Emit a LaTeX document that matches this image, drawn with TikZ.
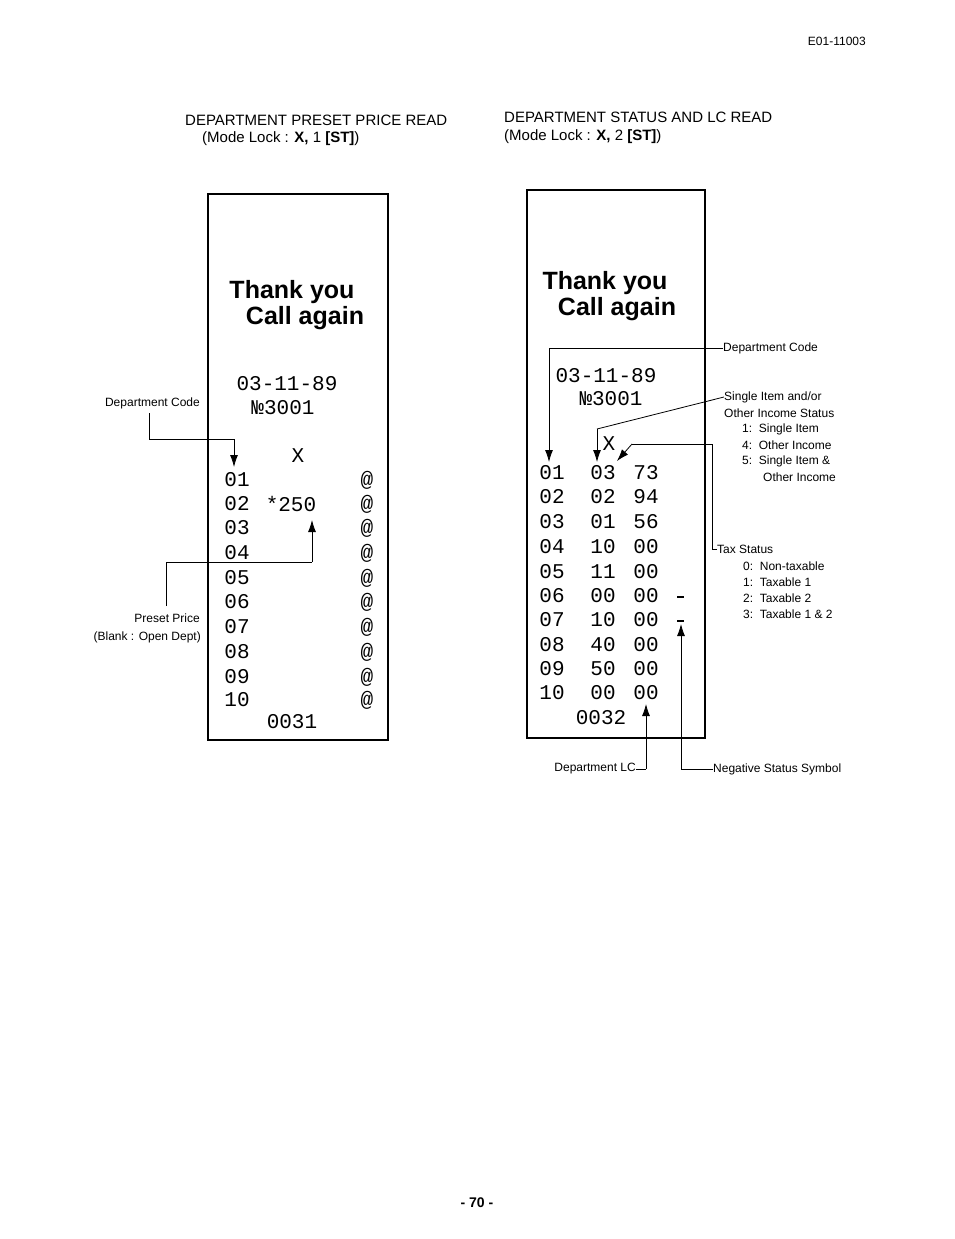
\documentclass[tikz,border=0pt]{standalone}
\usepackage{fontspec}
\setmainfont{Liberation Sans}
\setmonofont{Liberation Mono}
\usetikzlibrary{arrows.meta}
\tikzstyle{receipt}=[draw, line width = 1.6pt]
\tikzstyle{lbl}=[inner sep = 0pt, font = \fontsize{12}{13}\selectfont]
\tikzstyle{dig}=[inner sep = 0pt, font = \fontsize{21}{22}\ttfamily]
\tikzstyle{ttl}=[inner sep = 0pt, font = \fontsize{25}{26}\bfseries]
\tikzstyle{hdr}=[inner sep = 0pt, anchor = west, font = \fontsize{15}{16}\selectfont]
\tikzstyle{lead}=[line width = 0.8pt]
\tikzstyle{pointer}=[line width = 0.8pt, -{Latex[length=12pt,width=8pt]}]
\begin{document}
\begin{tikzpicture}[x = 1pt, y = -1pt]
\useasboundingbox (0,0) rectangle (954,1239);
\node[lbl, anchor = east] (page) at (866,41) {E01-11003};
\node[lbl, font = \fontsize{14}{15}\bfseries] (pgno) at (477,1203) {- 70 -};
% headers
\node[hdr] (h1) at (185,120) {DEPARTMENT PRESET PRICE READ};
\node[hdr] (h1m) at (202,139) {(Mode Lock : \textbf{X,} 1 \textbf{[ST]})};
\node[hdr] (h2) at (504,117) {DEPARTMENT STATUS AND LC READ};
\node[hdr] (h2m) at (504,137) {(Mode Lock : \textbf{X,} 2 \textbf{[ST]})};
% left receipt
\draw[receipt] (208,194) rectangle (388,740);
\node[ttl] (t1) at (292,292) {Thank you};
\node[ttl] (c1) at (305,318) {Call again};
\node[dig] (d1) at (287,384) {03-11-89};
\node[dig] (n1) at (283,408) {№3001};
\node[dig] (x1) at (298,456) {X};
\foreach \r/\y in {01/480,02/504,03/528,04/553,05/578,06/602,07/627,08/652,09/677,10/700}{
  \node[dig] (l\r) at (237,\y) {\r};
  \node[dig] (a\r) at (367,\y) {@};
}
\node[dig] (p02) at (291,504) {*250};
\node[dig] (s1) at (292,722) {0031};
\node[lbl, anchor = east] (ldc) at (200,403) {Department Code};
\node[lbl, anchor = east] (lpp) at (200,618) {Preset Price};
\node[lbl, anchor = east] (lpb) at (201,637) {(Blank : Open Dept)};
\draw[lead] (149,413) |- (234,439);
\draw[pointer] (234,439) -- (234,467);
\draw[lead] (166,606) |- (312,562);
\draw[pointer] (312,562) -- (312,520);
% right receipt
\draw[receipt] (527,190) rectangle (705,738);
\node[ttl] (t2) at (605,283) {Thank you};
\node[ttl] (c2) at (617,309) {Call again};
\node[dig] (d2) at (606,376) {03-11-89};
\node[dig] (n2) at (611,399) {№3001};
\node[dig] (x2) at (609,444) {X};
\foreach \r/\c/\lc/\y in {01/03/73/473,02/02/94/497,03/01/56/522,04/10/00/547,05/11/00/572,06/00/00/596,07/10/00/620,08/40/00/645,09/50/00/669,10/00/00/693}{
  \node[dig] (r\r) at (552,\y) {\r};
  \node[dig] (k\r) at (603,\y) {\c};
  \node[dig] (m\r) at (646,\y) {\lc};
}
\node[fill, minimum width = 7pt, minimum height = 2.5pt, inner sep = 0pt] (neg06) at (680,597) {};
\node[fill, minimum width = 7pt, minimum height = 2.5pt, inner sep = 0pt] (neg07) at (680,621) {};
\node[dig] (s2) at (601,718) {0032};
\node[lbl, anchor = west] (rdc) at (723,348) {Department Code};
\node[lbl, anchor = west] (rsi) at (724,397) {Single Item and/or};
\node[lbl, anchor = west] (rsi2) at (724,413) {Other Income Status};
\node[lbl, anchor = west] (rsa) at (742,429) {1:\ \ Single Item};
\node[lbl, anchor = west] (rsb) at (742,445) {4:\ \ Other Income};
\node[lbl, anchor = west] (rsc) at (742,461) {5:\ \ Single Item \&};
\node[lbl, anchor = west] (rsd) at (763,477) {Other Income};
\node[lbl, anchor = west] (rts) at (717,549) {Tax Status};
\node[lbl, anchor = west] (rt0) at (743,566) {0:\ \ Non-taxable};
\node[lbl, anchor = west] (rt1) at (743,582) {1:\ \ Taxable 1};
\node[lbl, anchor = west] (rt2) at (743,598) {2:\ \ Taxable 2};
\node[lbl, anchor = west] (rt3) at (743,614) {3:\ \ Taxable 1 \& 2};
\node[lbl, anchor = east] (rlc) at (636,769) {Department LC};
\node[lbl, anchor = west] (rns) at (713,769) {Negative Status Symbol};
\draw[lead] (rdc.west) -- (549,348);
\draw[pointer] (549,348) -- (549,462);
\draw[lead] (rsi.west) -- (597,429);
\draw[pointer] (597,429) -- (597,462);
\draw[lead] (rts.west) -| (712,444) -- (632,444);
\draw[pointer] (632,444) -- (617,461);
\draw[lead] (rns.west) -| (681,700);
\draw[pointer] (681,700) -- (681,624);
\draw[lead] (rlc.east) -- (646,769);
\draw[pointer] (646,769) -- (646,704);
\end{tikzpicture}
\end{document}
